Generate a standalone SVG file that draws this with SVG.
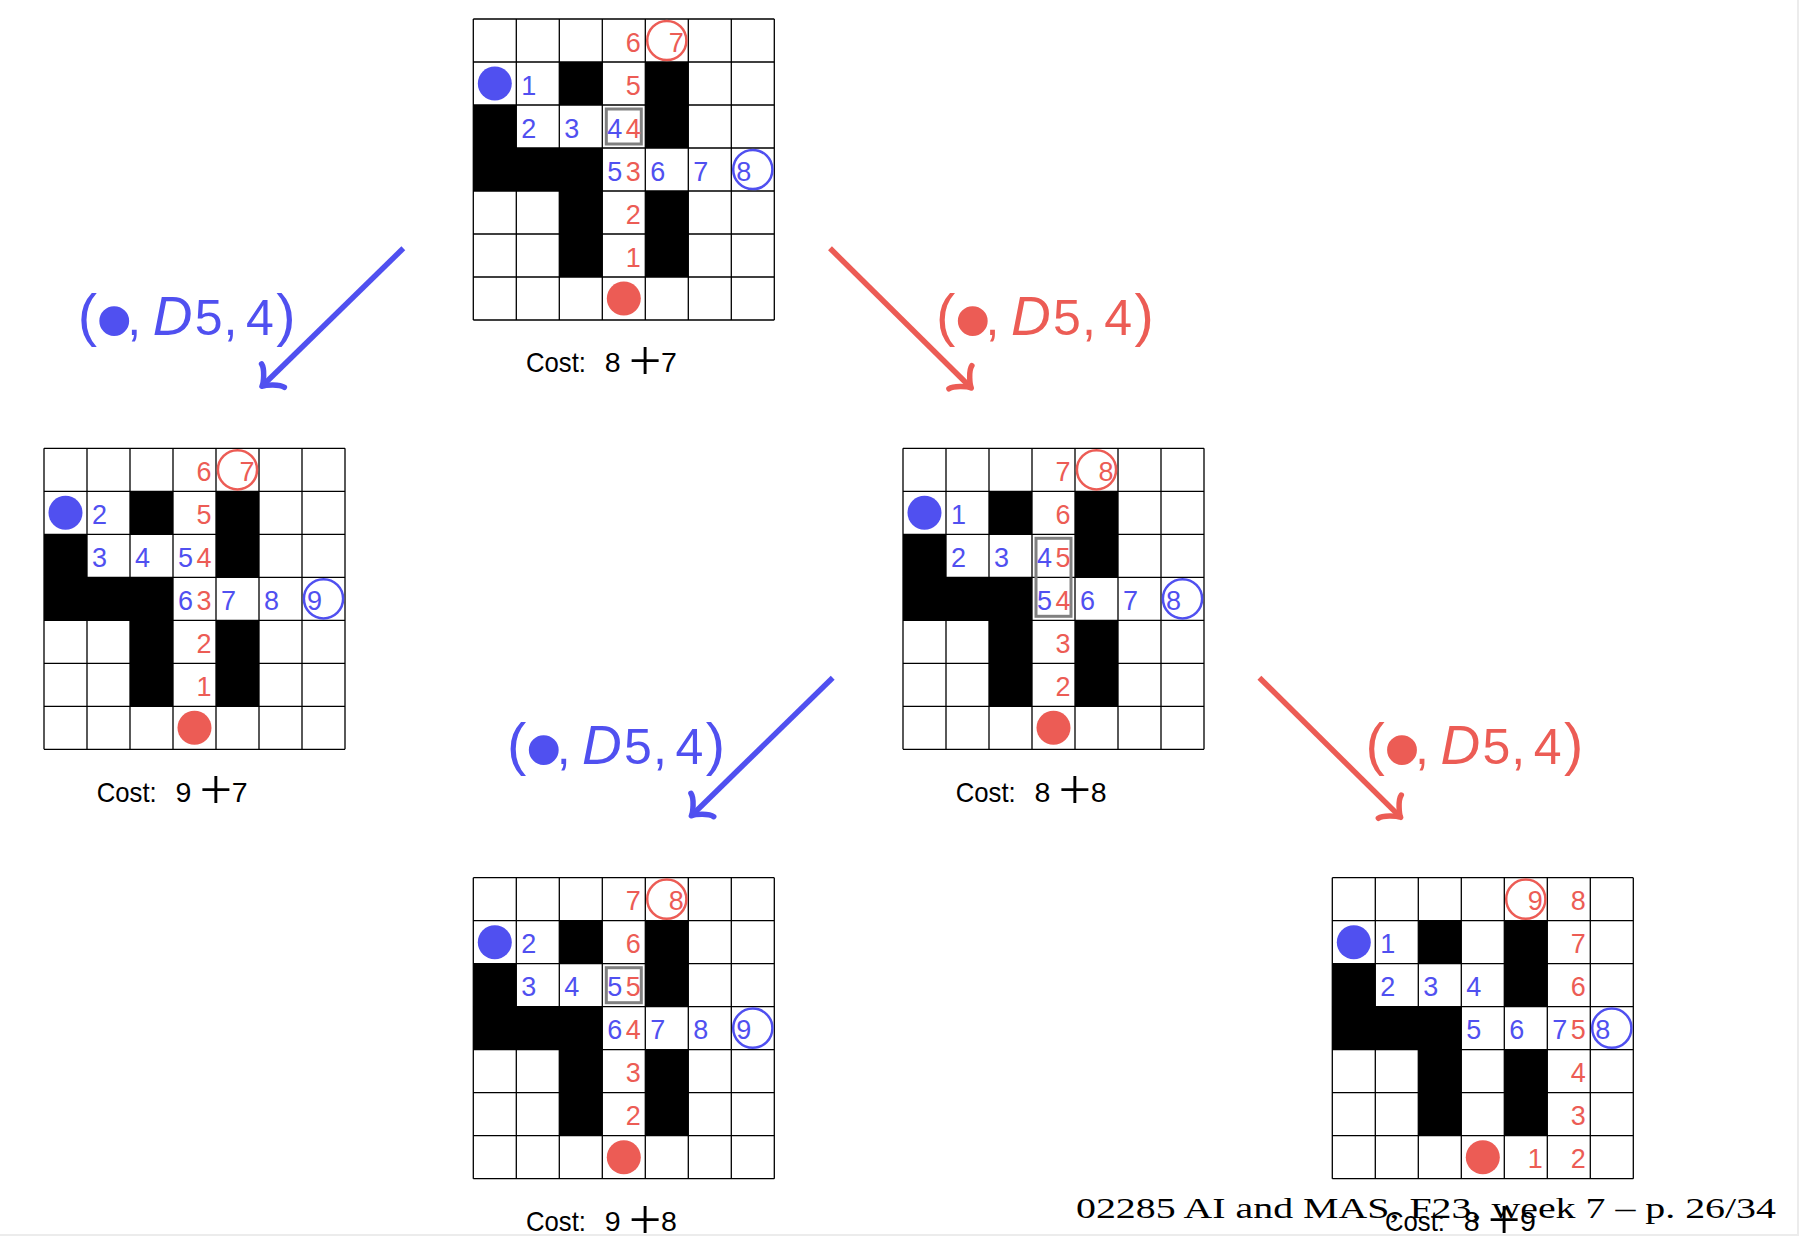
<svg xmlns="http://www.w3.org/2000/svg" xmlns:xlink="http://www.w3.org/1999/xlink" width="1802" height="1236" viewBox="0 0 1802 1236">
<style>
.n{font-family:"Liberation Sans",Arial,sans-serif;font-size:27px}
.b{fill:#5050F0}
.r{fill:#EC5C55}
.e{text-anchor:end}
.ringb{fill:none;stroke:#5050F0;stroke-width:2.5}
.ringr{fill:none;stroke:#EC5C55;stroke-width:2.5}
.box{fill:none;stroke:#808080;stroke-width:3}
.cost{font-family:"Liberation Sans",Arial,sans-serif;font-size:28.5px;fill:#000}
.plus{font-family:"Liberation Serif","Times New Roman",serif;font-size:58px}
.lbl{font-family:"Liberation Sans",Arial,sans-serif;font-size:50px}
.par{font-size:58px}
.bul{font-size:110px}
.it{font-style:italic;font-size:55px}
.shb{fill:none;stroke:#5050F0;stroke-width:5.5}
.shr{fill:none;stroke:#EC5C55;stroke-width:5.5}
.foot{font-family:"Liberation Serif","Times New Roman",serif;font-size:29px;fill:#000}
</style>
<defs>
<g id="board">
<rect width="301" height="301" fill="#fff"/>
<g fill="#000">
<rect x="86" y="43" width="43" height="43"/>
<rect x="172" y="43" width="43" height="86"/>
<rect x="0" y="86" width="43" height="86"/>
<rect x="0" y="129" width="129" height="43"/>
<rect x="86" y="129" width="43" height="129"/>
<rect x="172" y="172" width="43" height="86"/>
</g>
<path d="M0 0V301M43 0V301M86 0V301M129 0V301M172 0V301M215 0V301M258 0V301M301 0V301M0 0H301M0 43H301M0 86H301M0 129H301M0 172H301M0 215H301M0 258H301M0 301H301" fill="none" stroke="#000" stroke-width="1.3"/>
</g>
<marker id="tipB" markerUnits="userSpaceOnUse" orient="auto" refX="0" refY="0" markerWidth="40" markerHeight="40" viewBox="-20 -20 40 40" overflow="visible">
<path d="M -15.3,16.3 C -14.3,10.2 -3.06,1.02 0,0 C -3.06,-1.02 -14.3,-10.2 -15.3,-16.3" fill="none" stroke="#5050F0" stroke-width="5.5" stroke-linecap="round" stroke-linejoin="round"/>
</marker>
<marker id="tipR" markerUnits="userSpaceOnUse" orient="auto" refX="0" refY="0" markerWidth="40" markerHeight="40" viewBox="-20 -20 40 40" overflow="visible">
<path d="M -15.3,16.3 C -14.3,10.2 -3.06,1.02 0,0 C -3.06,-1.02 -14.3,-10.2 -15.3,-16.3" fill="none" stroke="#EC5C55" stroke-width="5.5" stroke-linecap="round" stroke-linejoin="round"/>
</marker>
</defs>
<rect width="1802" height="1236" fill="#fff"/>
<rect x="1797" y="0" width="2" height="1236" fill="#ececec"/>
<rect x="0" y="1234" width="1797" height="2" fill="#ececec"/>

<g id="nodeA" transform="translate(473.3,19)">
<use xlink:href="#board"/>
<circle class="ringr" cx="193.5" cy="21.5" r="19.6"/>
<circle class="ringb" cx="279.5" cy="150.5" r="19.6"/>
<circle cx="21.5" cy="64.5" r="17" fill="#5050F0"/>
<circle cx="150.5" cy="279.5" r="17" fill="#EC5C55"/>
<rect class="box" x="133" y="90" width="35" height="35"/>
<text class="n r e" x="167.5" y="32.5">6</text>
<text class="n r e" x="210.5" y="32.5">7</text>
<text class="n r e" x="167.5" y="75.5">5</text>
<text class="n r e" x="167.5" y="118.5">4</text>
<text class="n r e" x="167.5" y="161.5">3</text>
<text class="n r e" x="167.5" y="204.5">2</text>
<text class="n r e" x="167.5" y="247.5">1</text>
<text class="n b" x="48" y="75.5">1</text>
<text class="n b" x="48" y="118.5">2</text>
<text class="n b" x="91" y="118.5">3</text>
<text class="n b" x="134" y="118.5">4</text>
<text class="n b" x="134" y="161.5">5</text>
<text class="n b" x="177" y="161.5">6</text>
<text class="n b" x="220" y="161.5">7</text>
<text class="n b" x="263" y="161.5">8</text>
<text class="cost" y="353.4"><tspan x="52.7" textLength="60" lengthAdjust="spacingAndGlyphs">Cost:</tspan> <tspan x="131.5">8</tspan> <tspan class="plus" x="155.5" y="360.9">+</tspan> <tspan x="187.8" y="353.4">7</tspan></text>
</g>

<g id="nodeB" transform="translate(44,448.3)">
<use xlink:href="#board"/>
<circle class="ringr" cx="193.5" cy="21.5" r="19.6"/>
<circle class="ringb" cx="279.5" cy="150.5" r="19.6"/>
<circle cx="21.5" cy="64.5" r="17" fill="#5050F0"/>
<circle cx="150.5" cy="279.5" r="17" fill="#EC5C55"/>
<text class="n r e" x="167.5" y="32.5">6</text>
<text class="n r e" x="210.5" y="32.5">7</text>
<text class="n r e" x="167.5" y="75.5">5</text>
<text class="n r e" x="167.5" y="118.5">4</text>
<text class="n r e" x="167.5" y="161.5">3</text>
<text class="n r e" x="167.5" y="204.5">2</text>
<text class="n r e" x="167.5" y="247.5">1</text>
<text class="n b" x="48" y="75.5">2</text>
<text class="n b" x="48" y="118.5">3</text>
<text class="n b" x="91" y="118.5">4</text>
<text class="n b" x="134" y="118.5">5</text>
<text class="n b" x="134" y="161.5">6</text>
<text class="n b" x="177" y="161.5">7</text>
<text class="n b" x="220" y="161.5">8</text>
<text class="n b" x="263" y="161.5">9</text>
<text class="cost" y="353.4"><tspan x="52.7" textLength="60" lengthAdjust="spacingAndGlyphs">Cost:</tspan> <tspan x="131.5">9</tspan> <tspan class="plus" x="155.5" y="360.9">+</tspan> <tspan x="187.8" y="353.4">7</tspan></text>
</g>

<g id="nodeC" transform="translate(903,448.3)">
<use xlink:href="#board"/>
<circle class="ringr" cx="193.5" cy="21.5" r="19.6"/>
<circle class="ringb" cx="279.5" cy="150.5" r="19.6"/>
<circle cx="21.5" cy="64.5" r="17" fill="#5050F0"/>
<circle cx="150.5" cy="279.5" r="17" fill="#EC5C55"/>
<rect class="box" x="133" y="90" width="35" height="78"/>
<text class="n r e" x="167.5" y="32.5">7</text>
<text class="n r e" x="210.5" y="32.5">8</text>
<text class="n r e" x="167.5" y="75.5">6</text>
<text class="n r e" x="167.5" y="118.5">5</text>
<text class="n r e" x="167.5" y="161.5">4</text>
<text class="n r e" x="167.5" y="204.5">3</text>
<text class="n r e" x="167.5" y="247.5">2</text>
<text class="n b" x="48" y="75.5">1</text>
<text class="n b" x="48" y="118.5">2</text>
<text class="n b" x="91" y="118.5">3</text>
<text class="n b" x="134" y="118.5">4</text>
<text class="n b" x="134" y="161.5">5</text>
<text class="n b" x="177" y="161.5">6</text>
<text class="n b" x="220" y="161.5">7</text>
<text class="n b" x="263" y="161.5">8</text>
<text class="cost" y="353.4"><tspan x="52.7" textLength="60" lengthAdjust="spacingAndGlyphs">Cost:</tspan> <tspan x="131.5">8</tspan> <tspan class="plus" x="155.5" y="360.9">+</tspan> <tspan x="187.8" y="353.4">8</tspan></text>
</g>

<g id="nodeD" transform="translate(473.3,877.7)">
<use xlink:href="#board"/>
<circle class="ringr" cx="193.5" cy="21.5" r="19.6"/>
<circle class="ringb" cx="279.5" cy="150.5" r="19.6"/>
<circle cx="21.5" cy="64.5" r="17" fill="#5050F0"/>
<circle cx="150.5" cy="279.5" r="17" fill="#EC5C55"/>
<rect class="box" x="133" y="90" width="35" height="35"/>
<text class="n r e" x="167.5" y="32.5">7</text>
<text class="n r e" x="210.5" y="32.5">8</text>
<text class="n r e" x="167.5" y="75.5">6</text>
<text class="n r e" x="167.5" y="118.5">5</text>
<text class="n r e" x="167.5" y="161.5">4</text>
<text class="n r e" x="167.5" y="204.5">3</text>
<text class="n r e" x="167.5" y="247.5">2</text>
<text class="n b" x="48" y="75.5">2</text>
<text class="n b" x="48" y="118.5">3</text>
<text class="n b" x="91" y="118.5">4</text>
<text class="n b" x="134" y="118.5">5</text>
<text class="n b" x="134" y="161.5">6</text>
<text class="n b" x="177" y="161.5">7</text>
<text class="n b" x="220" y="161.5">8</text>
<text class="n b" x="263" y="161.5">9</text>
<text class="cost" y="353.4"><tspan x="52.7" textLength="60" lengthAdjust="spacingAndGlyphs">Cost:</tspan> <tspan x="131.5">9</tspan> <tspan class="plus" x="155.5" y="360.9">+</tspan> <tspan x="187.8" y="353.4">8</tspan></text>
</g>

<g id="nodeE" transform="translate(1332.3,877.7)">
<use xlink:href="#board"/>
<circle class="ringr" cx="193.5" cy="21.5" r="19.6"/>
<circle class="ringb" cx="279.5" cy="150.5" r="19.6"/>
<circle cx="21.5" cy="64.5" r="17" fill="#5050F0"/>
<circle cx="150.5" cy="279.5" r="17" fill="#EC5C55"/>
<text class="n r e" x="210.5" y="32.5">9</text>
<text class="n r e" x="253.5" y="32.5">8</text>
<text class="n r e" x="253.5" y="75.5">7</text>
<text class="n r e" x="253.5" y="118.5">6</text>
<text class="n r e" x="253.5" y="161.5">5</text>
<text class="n r e" x="253.5" y="204.5">4</text>
<text class="n r e" x="253.5" y="247.5">3</text>
<text class="n r e" x="210.5" y="290.5">1</text>
<text class="n r e" x="253.5" y="290.5">2</text>
<text class="n b" x="48" y="75.5">1</text>
<text class="n b" x="48" y="118.5">2</text>
<text class="n b" x="91" y="118.5">3</text>
<text class="n b" x="134" y="118.5">4</text>
<text class="n b" x="134" y="161.5">5</text>
<text class="n b" x="177" y="161.5">6</text>
<text class="n b" x="220" y="161.5">7</text>
<text class="n b" x="263" y="161.5">8</text>
<text class="cost" y="353.4"><tspan x="52.7" textLength="60" lengthAdjust="spacingAndGlyphs">Cost:</tspan> <tspan x="131.5">8</tspan> <tspan class="plus" x="155.5" y="360.9">+</tspan> <tspan x="187.8" y="353.4">9</tspan></text>
</g>

<g id="connectors">
<path class="shb" d="M403.3,248.3 L262,386.3" marker-end="url(#tipB)"/>
<path class="shr" d="M830,248.3 L971.3,388" marker-end="url(#tipR)"/>
<path class="shb" d="M832.7,677.7 L691.4,815.7" marker-end="url(#tipB)"/>
<path class="shr" d="M1259.4,677.7 L1400.7,817.4" marker-end="url(#tipR)"/>
<g class="lbl b" transform="translate(81.7,335)"><text><tspan class="par" x="-4" y="0">(</tspan><tspan class="bul" x="13.4" y="22">•</tspan><tspan x="45.6" y="0">,</tspan> <tspan class="it" x="71" y="0">D</tspan><tspan x="113" y="0">5</tspan><tspan x="141.9" y="0">,</tspan> <tspan x="164.3" y="0">4</tspan><tspan class="par" x="194.6" y="0">)</tspan></text></g>
<g class="lbl r" transform="translate(940,335)"><text><tspan class="par" x="-4" y="0">(</tspan><tspan class="bul" x="13.4" y="22">•</tspan><tspan x="45.6" y="0">,</tspan> <tspan class="it" x="71" y="0">D</tspan><tspan x="113" y="0">5</tspan><tspan x="141.9" y="0">,</tspan> <tspan x="164.3" y="0">4</tspan><tspan class="par" x="194.6" y="0">)</tspan></text></g>
<g class="lbl b" transform="translate(511.1,764.4)"><text><tspan class="par" x="-4" y="0">(</tspan><tspan class="bul" x="13.4" y="22">•</tspan><tspan x="45.6" y="0">,</tspan> <tspan class="it" x="71" y="0">D</tspan><tspan x="113" y="0">5</tspan><tspan x="141.9" y="0">,</tspan> <tspan x="164.3" y="0">4</tspan><tspan class="par" x="194.6" y="0">)</tspan></text></g>
<g class="lbl r" transform="translate(1369.4,764.4)"><text><tspan class="par" x="-4" y="0">(</tspan><tspan class="bul" x="13.4" y="22">•</tspan><tspan x="45.6" y="0">,</tspan> <tspan class="it" x="71" y="0">D</tspan><tspan x="113" y="0">5</tspan><tspan x="141.9" y="0">,</tspan> <tspan x="164.3" y="0">4</tspan><tspan class="par" x="194.6" y="0">)</tspan></text></g>
</g>

<text class="foot" x="1076" y="1218.3" textLength="700" lengthAdjust="spacingAndGlyphs">02285 AI and MAS, F23, week 7 – p. 26/34</text>
</svg>
